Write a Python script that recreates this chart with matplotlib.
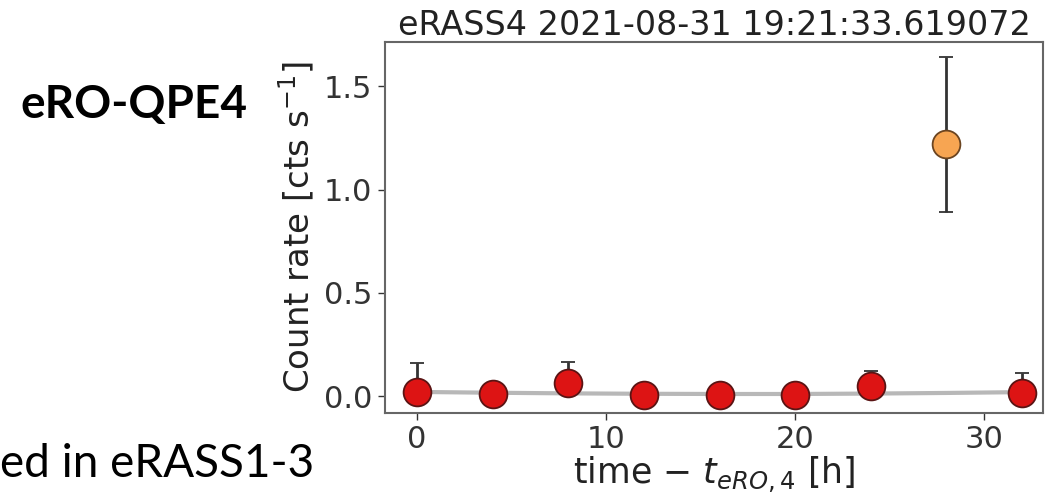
import matplotlib
matplotlib.use("Agg")
import matplotlib.pyplot as plt
import numpy as np

# Data
t_quiet = [0, 4, 8, 12, 16, 20, 24, 32]
rate_quiet = [0.02, 0.012, 0.065, 0.005, 0.005, 0.005, 0.05, 0.015]
err_up_quiet = [0.14, 0.0, 0.10, 0.0, 0.0, 0.0, 0.07, 0.095]
err_lo_quiet = [0.02, 0.012, 0.03, 0.005, 0.005, 0.005, 0.03, 0.015]

t_flare = [28]
rate_flare = [1.22]
err_up_flare = [0.42]
err_lo_flare = [0.33]

t_model = [0, 4, 8, 12, 16, 20, 24, 28, 32]
rate_model = [0.02, 0.016, 0.013, 0.011, 0.010, 0.010, 0.012, 0.015, 0.019]

title = "eRASS4 2021-08-31 19:21:33.619072"
xticks = [0, 10, 20, 30]
yticks = [0.0, 0.5, 1.0, 1.5]

fig = plt.figure(figsize=(10.45, 4.95), dpi=100)
ax = fig.add_axes([0.3684, 0.1657, 0.998 - 0.3684, 0.9152 - 0.1657])

ax.plot(t_model, rate_model, color="#b8b8b8", lw=3, zorder=1)
ax.errorbar(t_quiet, rate_quiet, yerr=[err_lo_quiet, err_up_quiet], fmt="o",
            ms=20, mfc="#dd1414", mec="#5a1414", mew=1.3,
            ecolor="#333333", elinewidth=2, capsize=5, capthick=2, zorder=3)
ax.errorbar(t_flare, rate_flare, yerr=[err_lo_flare, err_up_flare], fmt="o",
            ms=20, mfc="#f7a552", mec="#6b4420", mew=1.3,
            ecolor="#333333", elinewidth=2, capsize=5, capthick=2, zorder=3)

ax.set_xlim(-1.7, 33.1)
ax.set_ylim(-0.082, 1.715)
ax.set_xticks(xticks)
ax.set_yticks(yticks)
ax.set_yticklabels(["0.0", "0.5", "1.0", "1.5"])
for s in ax.spines.values():
    s.set_color("#666666")
    s.set_linewidth(1.5)
ax.tick_params(labelsize=22, colors="#333333", length=5, width=1, pad=4)
ax.set_title(title, fontsize=24, color="#222222", pad=5)
ax.set_xlabel(r"time $-$ $t_{eRO,4}$ [h]", fontsize=25, color="#222222", labelpad=0)
ax.set_ylabel(r"Count rate [cts s$^{-1}$]", fontsize=24.5, color="#222222", labelpad=6)

fig.text(20 / 1045, 1 - 118 / 495, "eRO-QPE4", fontsize=33, fontweight="bold",
         family="Lato", ha="left", va="baseline", color="black")
fig.text(0 / 1045, 1 - 477 / 495, "ed in eRASS1-3", fontsize=33,
         family="Lato", ha="left", va="baseline", color="black")

fig.savefig("out.png", dpi=100)
